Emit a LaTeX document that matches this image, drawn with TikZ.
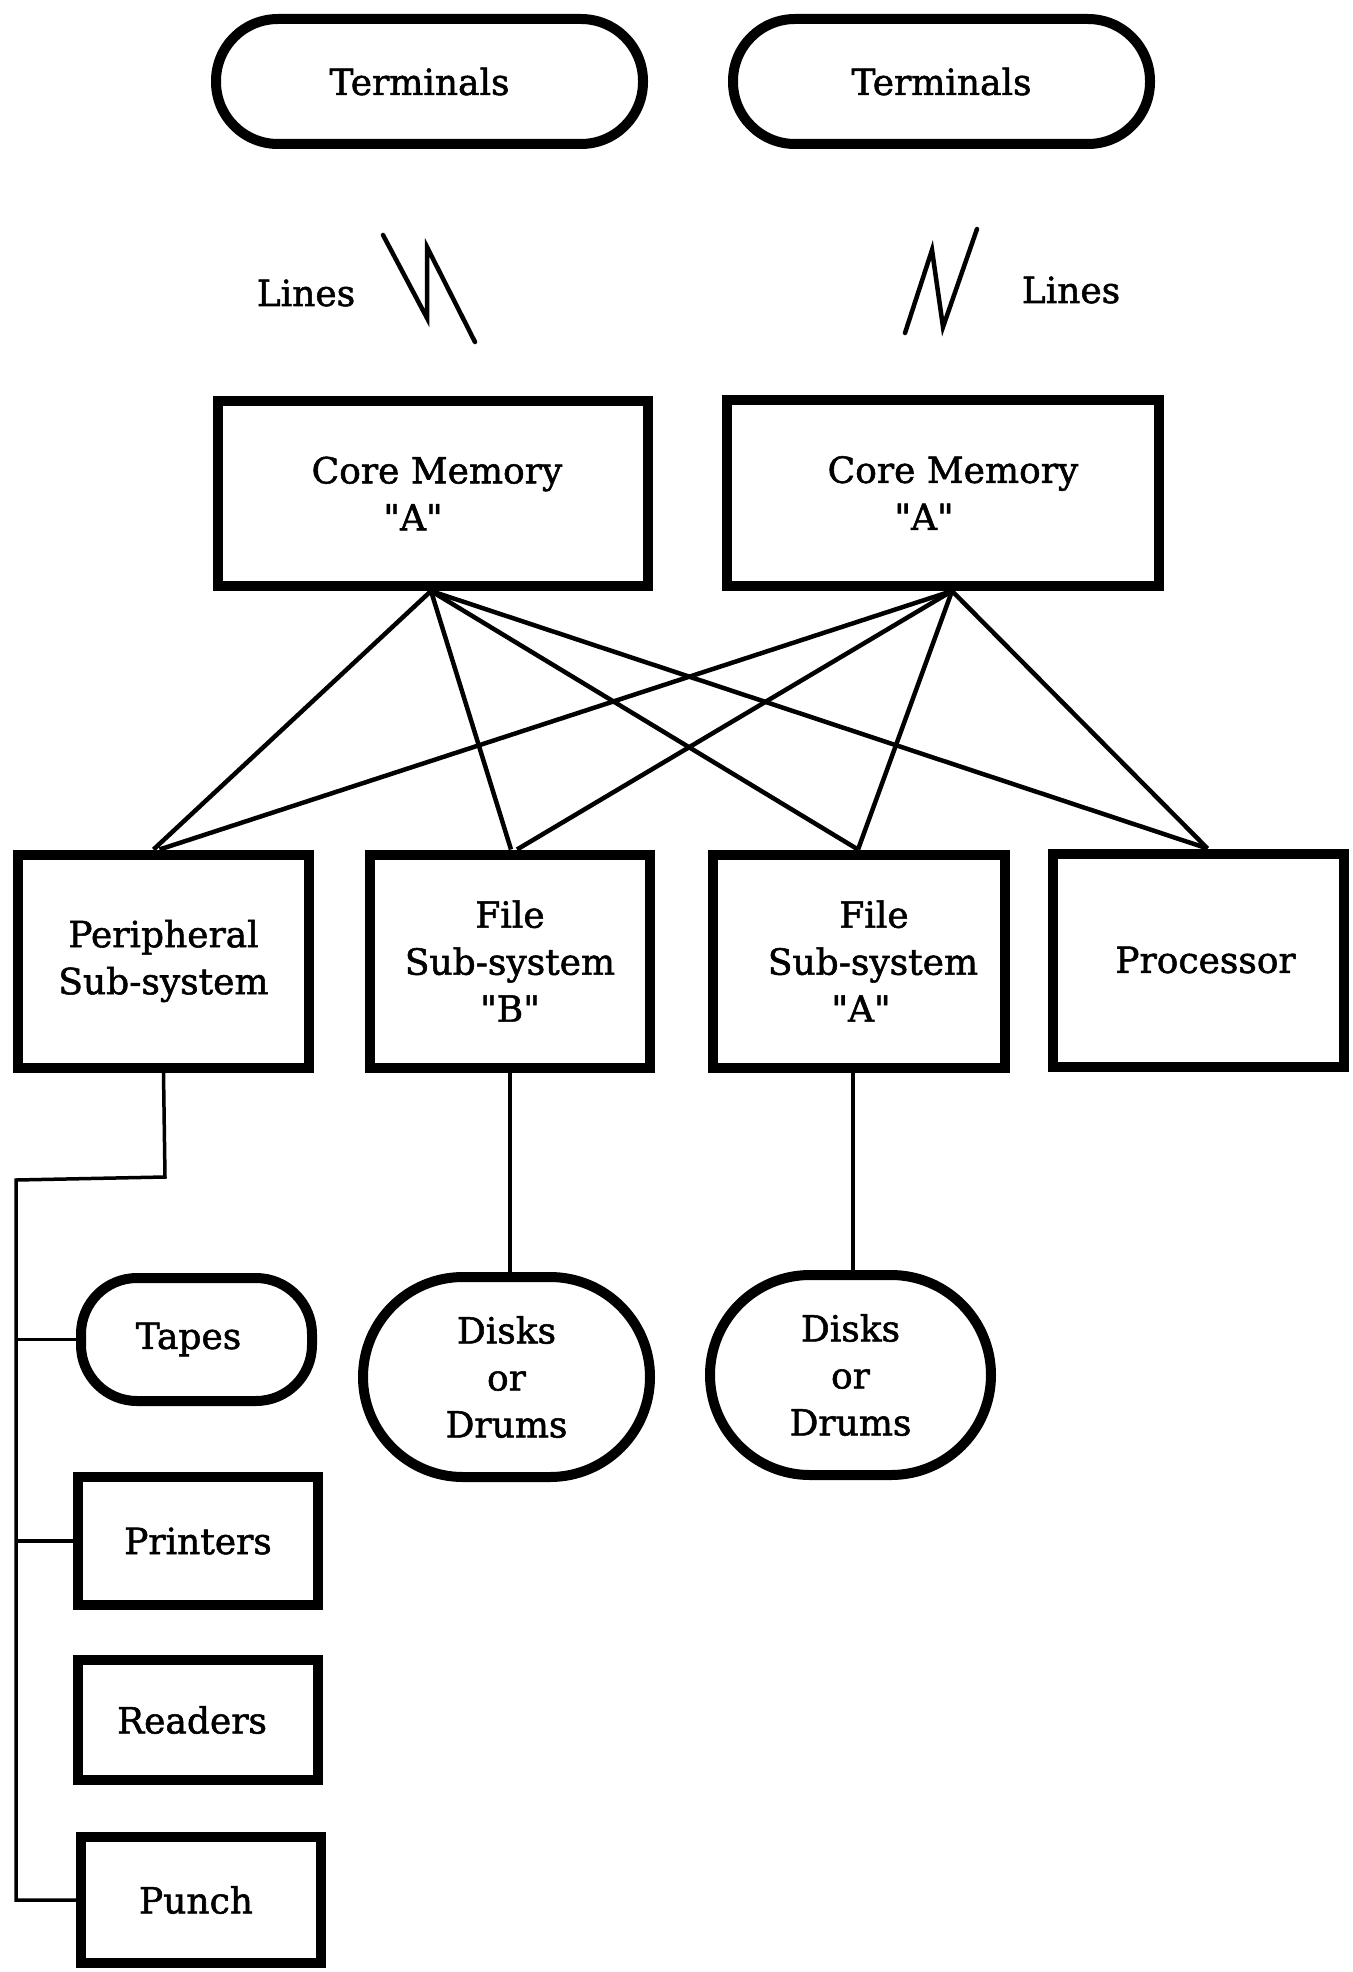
\documentclass[tikz,border=0pt]{standalone}
\usepackage{fontspec}
\newfontfamily\dfont{DejaVu Serif}[FakeBold=1.5]
\usetikzlibrary{calc}
\begin{document}
\begin{tikzpicture}[x=1pt,y=-1pt,
  box/.style={draw, line width=10pt, rectangle, align=center, inner sep=0pt,
    font=\dfont\fontsize{36}{47}\selectfont},
  oval/.style={box, rounded corners=#1},
  conn/.style={line width=4.5pt},
  thinconn/.style={line width=3.5pt},
  zig/.style={line width=4.5pt, line cap=round, line join=miter},
  lbl/.style={font=\dfont\fontsize{36}{47}\selectfont, inner sep=0pt}]
\useasboundingbox (0,0) rectangle (1352,1972);
% top terminals
\node[oval=62, minimum width=427pt, minimum height=125pt] (termL) at (429.5,81.5) {Terminals\hspace*{20pt}};
\node[oval=62, minimum width=417pt, minimum height=125pt] (termR) at (941.5,81.5) {Terminals};
% lines labels and zigzags
\node[lbl] (linesL) at (306,293) {Lines};
\node[lbl] (linesR) at (1071,290) {Lines};
\draw[zig] (383,235) -- (427,318) -- (427,247) -- (475,342);
\draw[zig] (905,333) -- (932,250) -- (943,327) -- (977,229);
% core memories
\node[box, minimum width=430pt, minimum height=185pt] (cmL) at (433,493.5) {\hspace*{8pt}Core Memory\\"A"\hspace*{40pt}};
\node[box, minimum width=432pt, minimum height=186pt] (cmR) at (943,493) {\hspace*{20pt}Core Memory\\"A"\hspace*{38pt}};
% subsystems
\node[box, minimum width=291pt, minimum height=213pt] (per) at (163.5,961) {Peripheral\\Sub-system};
\node[box, minimum width=280pt, minimum height=213pt] (fileB) at (510,961) {File\\Sub-system\\"B"};
\node[box, minimum width=292pt, minimum height=213pt] (fileA) at (859,961) {\hspace*{30pt}File\\\hspace*{28pt}Sub-system\\\hspace*{4pt}"A"};
\node[box, minimum width=291pt, minimum height=213pt] (proc) at (1198.5,960) {\hspace*{14pt}Processor};
% storage
\node[oval=100, minimum width=287pt, minimum height=200pt] (diskB) at (506.5,1377) {Disks\\or\\Drums};
\node[oval=100, minimum width=281pt, minimum height=200pt] (diskA) at (850.5,1375) {Disks\\or\\Drums};
% peripherals
\node[oval=56, minimum width=231pt, minimum height=123pt] (tapes) at (196.5,1339.5) {Tapes\hspace*{16pt}};
\node[box, minimum width=240pt, minimum height=128pt] (printers) at (198,1541) {Printers};
\node[box, minimum width=240pt, minimum height=120pt] (readers) at (198,1720) {Readers\hspace*{12pt}};
\node[box, minimum width=240pt, minimum height=126pt] (punch) at (201,1900) {Punch\hspace*{10pt}};
% core to subsystem connections
\coordinate (apL) at ($(cmL.south)+(-2,0)$);
\coordinate (apR) at ($(cmR.south)+(9,0)$);
\draw[conn] (apL) -- ($(per.north)+(-10,0)$);
\draw[conn] (apL) -- ($(fileB.north)+(1,0)$);
\draw[conn] (apL) -- ($(fileA.north)+(-1,0)$);
\draw[conn] (apL) -- ($(proc.north)+(9,0)$);
\draw[conn] (apR) -- ($(per.north)+(-4,0)$);
\draw[conn] (apR) -- ($(fileB.north)+(7,0)$);
\draw[conn] (apR) -- ($(fileA.north)+(-1,0)$);
\draw[conn] (apR) -- ($(proc.north)+(9,0)$);
% file subsystems to disks
\draw[thinconn] (fileB.south) -- (fileB.south |- diskB.north);
\draw[thinconn] ($(fileA.south)+(-6,0)$) -- ($(fileA.south |- diskA.north)+(-6,0)$);
% peripheral bus
\coordinate (bend) at (165,1177);
\coordinate (busT) at (16,1180);
\draw[thinconn] (per.south) -- (bend) -- (busT) |- (punch.west);
\draw[thinconn] (busT |- tapes.west) -- (tapes.west);
\draw[thinconn] (busT |- printers.west) -- (printers.west);
\end{tikzpicture}
\end{document}
